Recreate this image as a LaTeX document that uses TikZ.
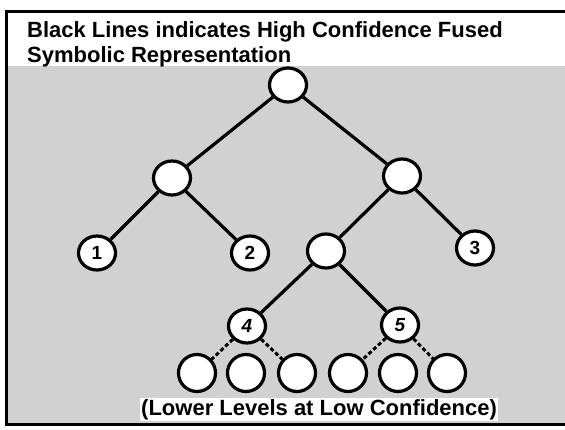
\documentclass[tikz,border=0pt]{standalone}
\usepackage{fontspec}
\setmainfont{Liberation Sans}
\usetikzlibrary{shapes.geometric}

\begin{document}
\begin{tikzpicture}[x=1pt, y=-1pt,
  nd/.style={draw, ellipse, line width=3.2pt, fill=white, inner sep=0pt,
             minimum width=37pt, minimum height=34pt,
             font=\fontsize{19}{19}\selectfont\bfseries},
  low/.style={nd, minimum width=37pt, minimum height=37pt},
  hi/.style={line width=3.2pt},
  lo/.style={line width=3pt, dash pattern=on 4pt off 2.5pt},
  lbl/.style={font=\fontsize{22}{26}\selectfont\bfseries, inner sep=0pt, anchor=base west}]
\useasboundingbox (0,0) rectangle (565,429);
\fill[white] (0,0) rectangle (565,429);
% frame and shaded field
\fill[black!18] (6.5,66) rectangle (565,424);
\draw[line width=3pt] (570,11.5) -- (6.5,11.5) -- (6.5,424) -- (570,424);
\node[lbl] (ttl) at (27,37) {Black Lines indicates High Confidence Fused};
\node[lbl] (ttlb) at (27,62) {Symbolic Representation};
% high confidence tree
\node[nd] (root) at (288,85) {};
\node[nd] (la) at (172,178) {};
\node[nd] (ra) at (402,176) {};
\node[nd] (n1) at (97,253) {1};
\node[nd] (n2) at (250,253) {2};
\node[nd] (mid) at (326,251) {};
\node[nd] (n3) at (475,248) {3};
\node[nd] (n4) at (247,326) {\itshape 4};
\node[nd] (n5) at (400,325) {\itshape 5};
\draw[hi] (root) -- (la); \draw[hi] (root) -- (ra);
\draw[hi] (la) -- (n1); \draw[hi] (la) -- (n2);
\draw[hi] (ra) -- (mid); \draw[hi] (ra) -- (n3);
\draw[hi] (mid) -- (n4); \draw[hi] (mid) -- (n5);
% lower levels
\foreach \i/\x in {1/197,2/246,3/297,4/348,5/398,6/447}
  \node[low] (e\i) at (\x,373) {};
\draw[lo] (n4) -- (e1); \draw[lo] (n4) -- (e3);
\draw[lo] (n5) -- (e4); \draw[lo] (n5) -- (e6);
\node[lbl, fill=white, inner sep=1pt] (note) at (140,415) {(Lower Levels at Low Confidence)};
\end{tikzpicture}
\end{document}
